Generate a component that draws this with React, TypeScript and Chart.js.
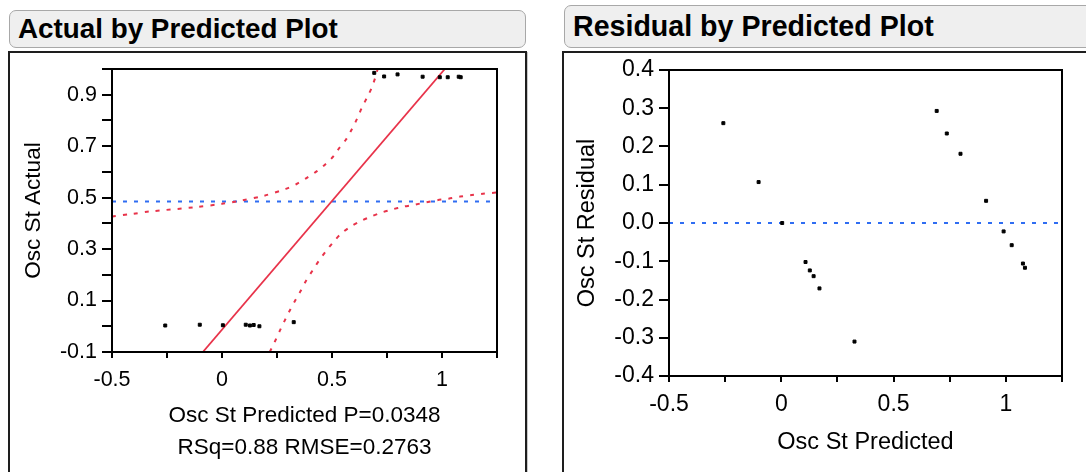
import React, { useEffect, useRef } from "react";
import { Chart, registerables } from "chart.js";

Chart.register(...registerables);

// ---------- data ----------
const predicted = [-0.258, -0.101, 0.004, 0.108, 0.127, 0.144, 0.17, 0.326, 0.692, 0.737, 0.798, 0.912, 0.99, 1.026, 1.076, 1.085];
const actual = [0.003, 0.006, 0.004, 0.006, 0.003, 0.005, 0.0, 0.016, 0.985, 0.971, 0.979, 0.97, 0.968, 0.968, 0.97, 0.968];
const residual = [0.261, 0.107, 0.0, -0.102, -0.124, -0.139, -0.171, -0.31, 0.293, 0.234, 0.181, 0.058, -0.022, -0.058, -0.106, -0.117];

const fitLineX = [-0.087, 1.013];
const fitLineY = [-0.1, 1.0];

const upperBandX = [-0.5, -0.406, -0.33, -0.12, 0.0, 0.088, 0.19, 0.29, 0.339, 0.384, 0.43, 0.468, 0.506, 0.533, 0.563, 0.589, 0.612, 0.635, 0.658, 0.68, 0.696, 0.706, 0.708];
const upperBandY = [0.427, 0.437, 0.446, 0.463, 0.476, 0.489, 0.507, 0.534, 0.553, 0.576, 0.602, 0.628, 0.66, 0.693, 0.725, 0.764, 0.803, 0.848, 0.887, 0.926, 0.965, 0.995, 1.0];

const lowerBandX = [0.217, 0.24, 0.263, 0.285, 0.308, 0.334, 0.358, 0.384, 0.411, 0.44, 0.471, 0.503, 0.539, 0.579, 0.624, 0.673, 0.722, 0.773, 0.825, 0.878, 0.928, 0.977, 1.03, 1.083, 1.136, 1.186, 1.25];
const lowerBandY = [-0.1, -0.06, -0.017, 0.022, 0.061, 0.102, 0.138, 0.18, 0.216, 0.254, 0.29, 0.324, 0.358, 0.384, 0.406, 0.425, 0.441, 0.454, 0.465, 0.473, 0.482, 0.49, 0.496, 0.504, 0.51, 0.515, 0.52];

const meanActual = 0.485;
const meanResidual = 0.0;

const xRange = [-0.5, 1.25];
const leftYRange = [-0.1, 1.0];
const rightYRange = [-0.4, 0.4];

const xTickLabels = ["-0.5", "0", "0.5", "1"];
const leftYTickLabels = ["-0.1", "0.1", "0.3", "0.5", "0.7", "0.9"];
const rightYTickLabels = ["-0.4", "-0.3", "-0.2", "-0.1", "0.0", "0.1", "0.2", "0.3", "0.4"];

const leftTitle = "Actual by Predicted Plot";
const rightTitle = "Residual by Predicted Plot";
const leftXTitle = ["Osc St Predicted P=0.0348", "RSq=0.88 RMSE=0.2763"];
const leftYTitle = "Osc St Actual";
const rightXTitle = ["Osc St Predicted"];
const rightYTitle = "Osc St Residual";

// ---------- styling ----------
const FONT = '"Liberation Sans", Arial, sans-serif';
const RED = "#e8334a";
const BLUE = "#2f6df2";
const W = 1086;
const H = 472;

const pts = (xs: number[], ys: number[]) => xs.map((x, i) => ({ x, y: ys[i] }));

const labelFor = (labels: string[]) => (value: number) => {
  const hit = labels.find((l) => Math.abs(Number(l) - value) < 1e-6);
  return hit === undefined ? "" : hit;
};

type Area = { left: number; top: number; right: number; bottom: number };

function makeConfig(opts: {
  area: Area;
  yRange: number[];
  yStep: number;
  yLabels: string[];
  font: number;
  titleFont: number;
  datasets: any[];
  xTitle: string[];
  xTitleY: number[];
  yTitle: string;
  yTitleX: number;
}) {
  const { area } = opts;
  const textPlugin = {
    id: "frameAndTitles",
    afterDraw(chart: any) {
      const ctx = chart.ctx;
      const ca = chart.chartArea;
      ctx.save();
      ctx.strokeStyle = "#000";
      ctx.lineWidth = 2;
      ctx.strokeRect(ca.left, ca.top, ca.right - ca.left, ca.bottom - ca.top);
      ctx.fillStyle = "#000";
      ctx.font = `${opts.titleFont}px ${FONT}`;
      ctx.textAlign = "center";
      ctx.textBaseline = "middle";
      const cx = (ca.left + ca.right) / 2;
      opts.xTitle.forEach((t, i) => ctx.fillText(t, cx, opts.xTitleY[i]));
      ctx.translate(opts.yTitleX, (ca.top + ca.bottom) / 2);
      ctx.rotate(-Math.PI / 2);
      ctx.fillText(opts.yTitle, 0, 0);
      ctx.restore();
    },
  };
  return {
    type: "scatter",
    data: { datasets: opts.datasets },
    options: {
      animation: false,
      responsive: false,
      maintainAspectRatio: false,
      devicePixelRatio: 1,
      events: [],
      layout: {
        padding: { left: 0, top: area.top, right: W - area.right, bottom: H - area.bottom - 60 },
      },
      plugins: { legend: { display: false }, tooltip: { enabled: false } },
      scales: {
        x: {
          type: "linear",
          min: xRange[0],
          max: xRange[1],
          afterFit: (s: any) => { s.height = 60; },
          border: { display: false },
          grid: { display: true, drawOnChartArea: false, drawTicks: true, tickLength: 6, color: "#000", lineWidth: 2 },
          ticks: {
            stepSize: 0.25,
            autoSkip: false,
            maxRotation: 0,
            padding: 9,
            color: "#000",
            font: { family: FONT, size: opts.font },
            callback: (v: number) => labelFor(xTickLabels)(v),
          },
        },
        y: {
          type: "linear",
          min: opts.yRange[0],
          max: opts.yRange[1],
          afterFit: (s: any) => { s.width = area.left; },
          border: { display: false },
          grid: { display: true, drawOnChartArea: false, drawTicks: true, tickLength: 10, color: "#000", lineWidth: 2 },
          ticks: {
            stepSize: opts.yStep,
            autoSkip: false,
            padding: 5,
            color: "#000",
            font: { family: FONT, size: opts.font },
            callback: (v: number) => labelFor(opts.yLabels)(v),
          },
        },
      },
    },
    plugins: [textPlugin],
  };
}

const pointDataset = (xs: number[], ys: number[]) => ({
  data: pts(xs, ys),
  showLine: false,
  pointStyle: "rect",
  pointRadius: 2.1,
  pointBorderWidth: 1,
  pointBackgroundColor: "#000",
  pointBorderColor: "#000",
  order: 0,
});

const lineDataset = (xs: number[], ys: number[], color: string, dash: number[], width: number, tension = 0) => ({
  data: pts(xs, ys),
  showLine: true,
  borderColor: color,
  borderWidth: width,
  borderDash: dash,
  pointRadius: 0,
  tension,
  fill: false,
  order: 1,
});

function PlotCanvas({ config }: { config: any }) {
  const ref = useRef<HTMLCanvasElement | null>(null);
  useEffect(() => {
    if (!ref.current) return;
    const chart = new Chart(ref.current, config);
    return () => chart.destroy();
  }, [config]);
  return (
    <canvas
      ref={ref}
      width={W}
      height={H}
      style={{ position: "absolute", left: 0, top: 0, width: W, height: H, pointerEvents: "none" }}
    />
  );
}

const leftConfig = makeConfig({
  area: { left: 112, top: 69, right: 497, bottom: 352 },
  yRange: leftYRange,
  yStep: 0.1,
  yLabels: leftYTickLabels,
  font: 21.5,
  titleFont: 22.5,
  xTitle: leftXTitle,
  xTitleY: [416, 448],
  yTitle: leftYTitle,
  yTitleX: 34,
  datasets: [
    pointDataset(predicted, actual),
    lineDataset(fitLineX, fitLineY, RED, [], 1.8),
    lineDataset(upperBandX, upperBandY, RED, [4, 7], 2, 0.3),
    lineDataset(lowerBandX, lowerBandY, RED, [4, 7], 2, 0.3),
    lineDataset(xRange, [meanActual, meanActual], BLUE, [4, 7], 2),
  ],
});

const rightConfig = makeConfig({
  area: { left: 669, top: 70, right: 1062, bottom: 376 },
  yRange: rightYRange,
  yStep: 0.1,
  yLabels: rightYTickLabels,
  font: 23,
  titleFont: 23.5,
  xTitle: rightXTitle,
  xTitleY: [443],
  yTitle: rightYTitle,
  yTitleX: 588,
  datasets: [
    pointDataset(predicted, residual),
    lineDataset(xRange, [meanResidual, meanResidual], BLUE, [4, 7], 1.8),
  ],
});

const titleBox = (left: number, top: number, width: number, height: number, size: number): React.CSSProperties => ({
  position: "absolute",
  left,
  top,
  width,
  height,
  boxSizing: "border-box",
  border: "1.5px solid #a8a8a8",
  borderRadius: 7,
  background: "#efefef",
  fontFamily: FONT,
  fontWeight: "bold",
  fontSize: size,
  lineHeight: `${height - 3}px`,
  paddingLeft: 8,
  color: "#000",
  whiteSpace: "nowrap",
  overflow: "hidden",
});

const frame = (left: number, width: number): React.CSSProperties => ({
  position: "absolute",
  left,
  top: 51,
  width,
  height: 460,
  boxSizing: "border-box",
  border: "2px solid #1e1e1e",
  boxShadow: "1px 1px 0 #c8c8c8",
});

export default function App() {
  return (
    <div
      style={{
        position: "absolute",
        left: 0,
        top: 0,
        width: W,
        height: H,
        overflow: "hidden",
        background: "#fff",
      }}
    >
      <div style={titleBox(9, 10, 517, 38, 27.8)}>{leftTitle}</div>
      <div style={titleBox(564, 5, 540, 43, 28.6)}>{rightTitle}</div>
      <div style={frame(8, 519)} />
      <div style={frame(562, 600)} />
      <PlotCanvas config={leftConfig} />
      <PlotCanvas config={rightConfig} />
    </div>
  );
}
